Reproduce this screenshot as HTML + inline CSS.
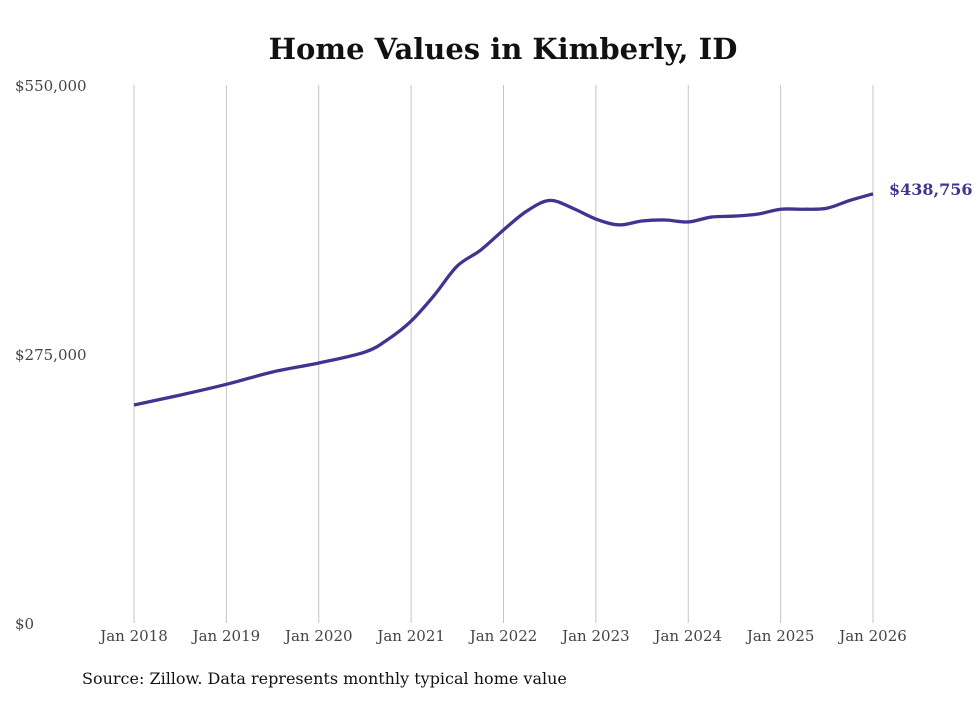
<!DOCTYPE html>
<html><head><meta charset="utf-8"><style>
body{margin:0;background:#fff;}
svg text{font-family:"DejaVu Serif","Liberation Serif",serif;}
</style></head><body>
<svg width="980" height="699" viewBox="0 0 980 699">
<text x="503" y="59" text-anchor="middle" font-size="29" font-weight="bold" fill="#111">Home Values in Kimberly, ID</text>
<g id="grid"></g><g id="yax"></g><g id="xax"></g><g id="series"></g>
<text x="82" y="684" font-size="16" fill="#111">Source: Zillow. Data represents monthly typical home value</text>
</svg>
<script>
const years=[2018,2019,2020,2021,2022,2023,2024,2025,2026];
const yTicks=[0,275000,550000];
const yTickLabels=["$0","$275,000","$550,000"];
const dates=[2018,2018.5,2019,2019.5,2020,2020.5,2020.75,2021,2021.25,2021.5,2021.75,2022,2022.25,2022.5,2022.75,2023,2023.25,2023.5,2023.75,2024,2024.25,2024.5,2024.75,2025,2025.25,2025.5,2025.75,2026];
const values=[222900,233000,244000,256600,265800,277000,290000,308700,335000,365000,381000,401800,421000,432000,424000,413000,407000,411000,412000,410000,415000,416000,418000,423000,423000,424000,432000,438756];
const lastLabel="$438,756";
const NS="http://www.w3.org/2000/svg";
const X=d=>134+(d-2018)*(873-134)/8;
const Y=v=>623-v*(623-85)/550000;
function mk(tag,attrs,parent,txt){const e=document.createElementNS(NS,tag);for(const k in attrs)e.setAttribute(k,attrs[k]);if(txt!==undefined)e.textContent=txt;document.getElementById(parent).appendChild(e);return e;}
years.forEach(y=>{
 const l=mk('line',{x1:X(y),x2:X(y),y1:85,y2:623,stroke:'#c4c4c4','stroke-width':1},'grid');
 
 
 const t=mk('text',{x:X(y),y:641,'text-anchor':'middle','font-size':15,fill:'#444'},'xax','Jan '+y);
 
 
});
yTicks.forEach((v,i)=>{
 const t=mk('text',{x:15,y:Y(v)+6,'font-size':15,fill:'#444'},'yax',yTickLabels[i]);
 
 
});
const pts=dates.map((d,i)=>[X(d),Y(values[i])]);
let p='M'+pts[0][0]+','+pts[0][1];
for(let i=0;i<pts.length-1;i++){const p0=pts[Math.max(0,i-1)],p1=pts[i],p2=pts[i+1],p3=pts[Math.min(pts.length-1,i+2)];
 p+=` C${p1[0]+(p2[0]-p0[0])/6},${p1[1]+(p2[1]-p0[1])/6} ${p2[0]-(p3[0]-p1[0])/6},${p2[1]-(p3[1]-p1[1])/6} ${p2[0]},${p2[1]}`;}
const line=mk('path',{d:p,fill:'none',stroke:'#3d3590','stroke-width':3.3,'stroke-linejoin':'round'},'series');


const last=pts[pts.length-1];
const lbl=mk('text',{x:last[0]+16,y:last[1]+1,'font-size':16,'font-weight':'bold',fill:'#3d3590'},'series',lastLabel);


</script>
</body></html>
